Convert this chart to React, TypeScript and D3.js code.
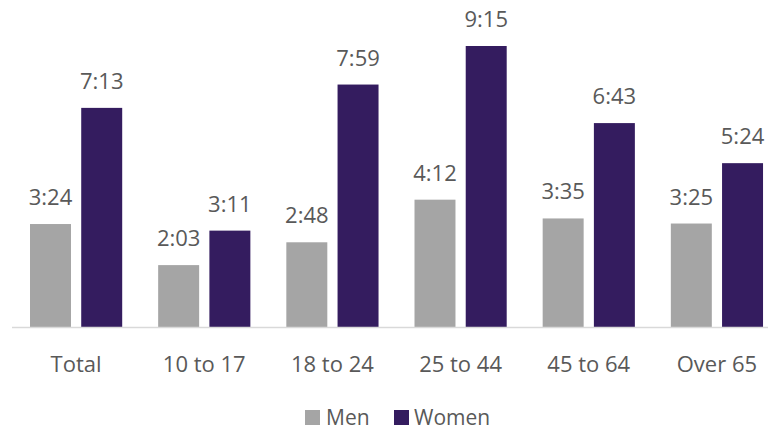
import React from "react";
import * as d3 from "d3";

const categories = ["Total", "10 to 17", "18 to 24", "25 to 44", "45 to 64", "Over 65"];
const seriesNames = ["Men", "Women"];
const menLabels = ["3:24", "2:03", "2:48", "4:12", "3:35", "3:25"];
const womenLabels = ["7:13", "3:11", "7:59", "9:15", "6:43", "5:24"];
const colors = ["#A5A5A5", "#341C5F"];

const toMin = (s: string) => {
  const [h, m] = s.split(":").map(Number);
  return h * 60 + m;
};

export default function App() {
  const W = 768, H = 429;
  const baseline = 327.5;
  const x0 = d3.scaleBand<string>().domain(categories).range([12, 781]).paddingInner(0).paddingOuter(0);
  const x1 = d3.scaleBand<string>().domain(seriesNames).range([18, 128.2 - 18]).paddingInner(0.2);
  const y = d3.scaleLinear().domain([0, 555]).range([baseline, 46]);
  const series = [menLabels, womenLabels];
  const font = "'Open Sans', 'Noto Sans', sans-serif";
  const fs = 22;
  return (
    <svg width={W} height={H} style={{ position: "absolute", left: 0, top: 0, display: "block" }}>
      <rect width={W} height={H} fill="#fff" />
      {categories.map((c, i) => (
        <g key={c} transform={`translate(${x0(c)},0)`}>
          {seriesNames.map((s, j) => {
            const v = toMin(series[j][i]);
            const bx = x1(s)!;
            return (
              <g key={s}>
                <rect x={bx} y={y(v)} width={x1.bandwidth()} height={baseline - y(v)} fill={colors[j]} />
                <text x={bx + x1.bandwidth() / 2} y={y(v) - 19} textAnchor="middle" fontSize={fs} fill="#595959" fontFamily={font}>
                  {series[j][i]}
                </text>
              </g>
            );
          })}
          <text x={x0.bandwidth() / 2} y={372} textAnchor="middle" fontSize={fs} fill="#595959" fontFamily={font}>
            {c}
          </text>
        </g>
      ))}
      <line x1={12} x2={768} y1={baseline} y2={baseline} stroke="#D9D9D9" strokeWidth={1.5} />
      <g fontFamily={font} fontSize={21} fill="#595959">
        <rect x={305} y={410} width={15} height={15} fill={colors[0]} />
        <text x={326} y={425}>Men</text>
        <rect x={394} y={410} width={15} height={15} fill={colors[1]} />
        <text x={414} y={425}>Women</text>
      </g>
    </svg>
  );
}
